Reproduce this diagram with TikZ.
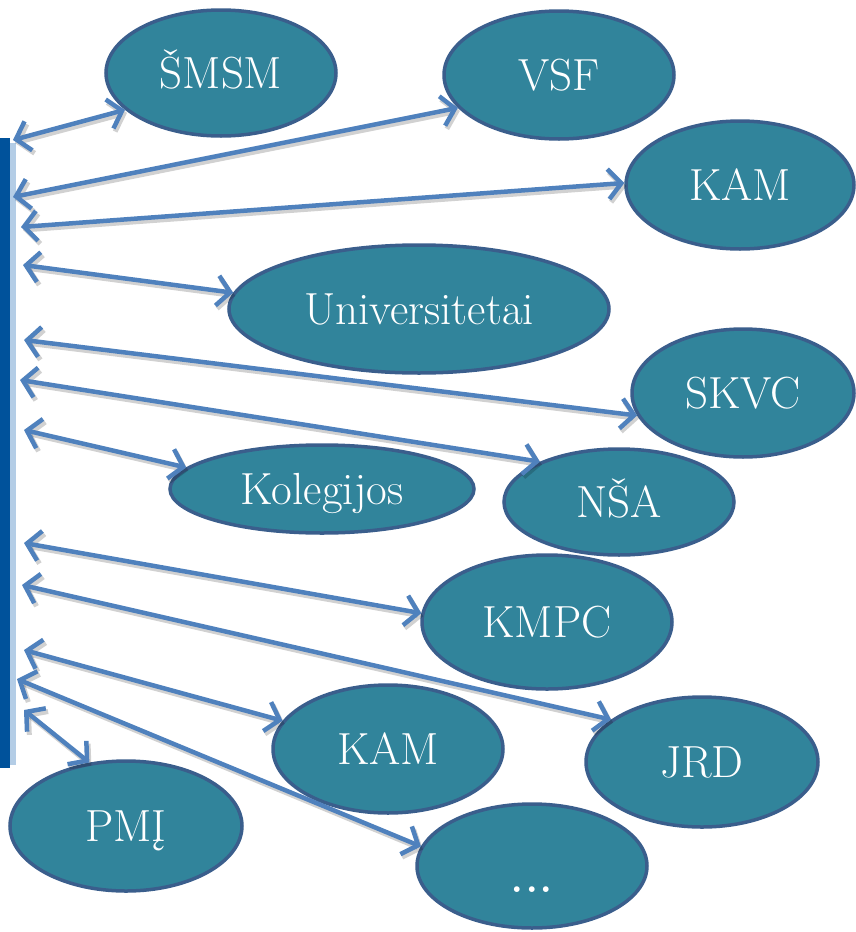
\documentclass[tikz,border=0pt]{standalone}
\usetikzlibrary{arrows.meta,shapes.geometric}
\definecolor{nodefill}{HTML}{31849B}
\definecolor{nodeline}{HTML}{3A5E8C}
\definecolor{arrowcol}{HTML}{4F81BD}
\definecolor{bardark}{HTML}{00529B}
\definecolor{barlight}{HTML}{B4CDE6}
\tikzset{
  org/.style={ellipse, draw=nodeline, line width=3.5pt, fill=nodefill, text=white,
    inner sep=0pt, font=\fontsize{45}{50}\selectfont, text height=31pt, text depth=0pt},
  conn/.style={draw=arrowcol, line width=4.5pt,
    {Straight Barb[length=13pt,width=30pt]}-{Straight Barb[length=13pt,width=30pt]}},
  connshadow/.style={draw=black, opacity=0.18, line width=5pt,
    {Straight Barb[length=13pt,width=30pt]}-{Straight Barb[length=13pt,width=30pt]}}
}
\begin{document}
\begin{tikzpicture}[x=1pt,y=-1pt]
\useasboundingbox (0,0) rectangle (856,932);
% side bar
\fill[bardark] (0,138) rectangle (10,768);
\fill[barlight] (10,143) rectangle (16,765);
% nodes
\node[org, minimum width=230pt, minimum height=126pt] (smsm) at (221,73) {ŠMSM};
\node[org, minimum width=230pt, minimum height=128pt] (vsf) at (559,75) {VSF};
\node[org, minimum width=228pt, minimum height=128pt] (kam1) at (740,185) {KAM};
\node[org, minimum width=380pt, minimum height=128pt] (univ) at (419,309) {Universitetai};
\node[org, minimum width=222pt, minimum height=128pt] (skvc) at (743,393) {SKVC};
\node[org, minimum width=304pt, minimum height=88pt] (koleg) at (322,489) {Kolegijos};
\node[org, minimum width=230pt, minimum height=106pt] (nsa) at (619,502) {NŠA};
\node[org, minimum width=250pt, minimum height=134pt] (kmpc) at (547,622) {KMPC};
\node[org, minimum width=230pt, minimum height=128pt] (kam2) at (388,749) {KAM};
\node[org, minimum width=232pt, minimum height=130pt] (jrd) at (702,762) {JRD};
\node[org, minimum width=232pt, minimum height=130pt] (pmi) at (126,826) {PMĮ};
\node[org, minimum width=230pt, minimum height=124pt, text height=0pt] (dots) at (532,866)
  {\raisebox{-26pt}{\fontsize{70}{70}\selectfont.\kern-3pt.\kern-3pt.}};
% free ends at the bar
\coordinate (l1) at (13,140);
\coordinate (l2) at (13,197);
\coordinate (l3) at (21,227);
\coordinate (l4) at (23,265);
\coordinate (l5) at (24,340);
\coordinate (l6) at (20,380);
\coordinate (l7) at (24,430);
\coordinate (l8) at (24,543);
\coordinate (l9) at (22,585);
\coordinate (l10) at (24,650);
\coordinate (l11) at (17,679);
\coordinate (l12) at (24,710);
% connectors
\foreach \a/\b in {l1/smsm.201, l2/vsf.198, l3/kam1.179, l4/univ.175,
                   l5/skvc.192, l6/nsa.153, l7/koleg.171, l8/kmpc.176,
                   l9/jrd.155, l10/kam2.165, l11/dots.170, l12/pmi.120}{
  \draw[connshadow] ([shift={(2,3)}]\a) -- ([shift={(2,3)}]\b);
  \draw[conn] (\a) -- (\b);
}
\end{tikzpicture}
\end{document}
